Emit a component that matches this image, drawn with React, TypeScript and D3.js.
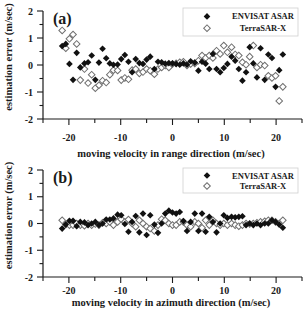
import React from "react";
import * as d3 from "d3";

// moving velocity (m/sec), shared by both panels
const velocity = [
  -21.3, -20.6, -19.9, -19.2, -18.5, -17.8, -17.0, -16.3, -15.6, -14.9, -14.2,
  -13.5, -12.8, -12.1, -11.4, -10.6, -9.9, -9.2, -8.5, -7.8, -7.1, -6.4, -5.7,
  -5.0, -4.3, -3.5, -2.8, -2.1, -1.4, -0.7, 0, 0.7, 1.4, 2.1, 2.8, 3.5, 4.3,
  5.0, 5.7, 6.4, 7.1, 7.8, 8.5, 9.2, 9.9, 10.6, 11.4, 12.1, 12.8, 13.5, 14.2,
  14.9, 15.6, 16.3, 17.0, 17.8, 18.5, 19.2, 19.9, 20.6, 21.3,
];

const rangeEnvisat = [
  0.7, 0.78, 0.04, -0.55, 0.45, -0.09, 0.06, 0.1, 0.35, -0.55, 0.09, 0.6, 0.25,
  0.06, 0.01, 0.02, 0.22, 0.37, 0.12, -0.27, 0.22, 0.07, 0.04, 0.2, 0.31, -0.15,
  0.12, 0.1, 0.05, 0.07, 0.06, 0.04, 0.01, 0.06, 0.01, 0.14, 0.09, -0.21, 0.12,
  0.05, -0.15, 0.41, -0.15, -0.27, -0.11, 0.04, 0.31, 0.16, -0.15, -0.58, -0.27,
  0.66, 0.06, -0.46, 0.62, -0.55, 0.39, 0.26, -0.81, -0.19, 0.39,
];
const rangeTerra = [
  1.28, 0.62, 0.97, 1.13, 0.78, -0.56, -0.15, -0.67, -0.36, -0.86, -0.75, -0.58,
  -0.65, -0.36, -0.19, -0.2, -0.56, -0.48, -0.53, -0.19, -0.15, -0.31, -0.26,
  -0.15, -0.21, -0.34, -0.15, -0.09, -0.02, -0.09, 0.04, 0.06, 0.1, 0.12, -0.02,
  0.04, 0.06, 0.16, 0.35, 0.26, 0.35, 0.26, 0.53, 0.41, 0.72, 0.47, 0.66, 0.39,
  0.35, 0.1, 0.01, 0.31, 0.72, -0.09, 0.01, -0.02, -0.4, -0.48, -0.4, -1.33,
  -0.81,
];
const azimuthEnvisat = [
  -0.19, -0.04, 0.1, 0.1, -0.1, 0.06, 0.04, -0.06, 0.0, 0.06, -0.06, 0.0, 0.15,
  0.15, 0.19, 0.33, 0.31, -0.02, -0.31, 0.06, 0.28, -0.33, 0.37, -0.43, 0.31,
  -0.04, -0.35, 0.0, 0.37, 0.48, 0.41, 0.37, 0.43, 0.09, -0.28, 0.06, 0.37,
  -0.28, 0.37, -0.31, 0.25, 0.06, -0.33, 0.0, 0.31, 0.21, 0.25, 0.23, 0.25,
  0.27, -0.06, 0.0, -0.06, 0.0, -0.06, 0.0, 0.0, 0.12, 0.06, -0.04, -0.16,
];
const azimuthTerra = [
  0.12, -0.04, -0.06, -0.06, 0.0, -0.06, -0.08, 0.0, -0.06, -0.02, -0.06, 0.03,
  0.0, 0.06, -0.06, 0.06, 0.16, 0.06, 0.15, 0.0, -0.12, 0.12, 0.0, -0.12, -0.19,
  -0.28, -0.06, 0.16, 0.12, 0.0, -0.06, -0.06, 0.06, 0.06, -0.06, -0.12, 0.06,
  0.0, -0.16, 0.12, -0.06, 0.12, 0.0, -0.06, 0.0, -0.06, 0.0, -0.06, -0.1, -0.06,
  0.0, -0.02, 0.0, 0.03, 0.06, 0.08, 0.12, 0.12, 0.06, 0.0, 0.12,
];

const xTicks = [-25, -20, -15, -10, -5, 0, 5, 10, 15, 20, 25];
const xTickLabels = [-20, -10, 0, 10, 20];
const yTicks = [-2, -1.5, -1, -0.5, 0, 0.5, 1, 1.5, 2];
const yTickLabels = [-2, -1, 0, 1, 2];
const seriesNames = ["ENVISAT ASAR", "TerraSAR-X"];

const FONT = "'Liberation Serif', 'Times New Roman', serif";
const INK = "#1a1a1a";

const x = d3.scaleLinear().domain([-25, 25]).range([43, 302]);
const diamond = d3.symbol(d3.symbolSquare, 22)();

type PanelProps = {
  tag: string;
  top: number;
  bottom: number;
  envisat: number[];
  terra: number[];
  xTitle: string;
  labelGap: number;
  titleGap: number;
  legendTop: number;
  legendH: number;
};

const Panel = ({
  tag,
  top,
  bottom,
  envisat,
  terra,
  xTitle,
  labelGap,
  titleGap,
  legendTop,
  legendH,
}: PanelProps) => {
  const y = d3.scaleLinear().domain([-2, 2]).range([bottom, top]);
  const x0 = x.range()[0];
  const x1 = x.range()[1];
  const mid = (top + bottom) / 2 - 8;
  const row1 = legendTop + legendH * 0.3;
  const row2 = legendTop + legendH * 0.72;
  return (
    <g fontFamily={FONT} fontWeight="bold" fill={INK}>
      {/* y axis */}
      <line x1={x0} x2={x0} y1={top} y2={bottom} stroke={INK} strokeWidth={1.2} />
      {yTicks.map((t) => (
        <line
          key={"yt" + t}
          x1={x0 - (Number.isInteger(t) ? 6 : 3.5)}
          x2={x0}
          y1={y(t)}
          y2={y(t)}
          stroke={INK}
          strokeWidth={1.1}
        />
      ))}
      {yTickLabels.map((t) => (
        <text key={"yl" + t} x={x0 - 10} y={y(t) + 3.5} textAnchor="end" fontSize={10}>
          {t}
        </text>
      ))}
      <text
        transform={`translate(12,${mid}) rotate(-90)`}
        textAnchor="middle"
        fontSize={10.5}
      >
        estimation error (m/sec)
      </text>
      {/* x axis */}
      <line x1={x0} x2={x1} y1={bottom} y2={bottom} stroke={INK} strokeWidth={1.2} />
      {xTicks.map((t) => (
        <line
          key={"xt" + t}
          x1={x(t)}
          x2={x(t)}
          y1={bottom}
          y2={bottom + (t % 10 === 0 ? 6 : 4)}
          stroke={INK}
          strokeWidth={1.1}
        />
      ))}
      {xTickLabels.map((t) => (
        <text key={"xl" + t} x={x(t)} y={bottom + labelGap} textAnchor="middle" fontSize={10}>
          {t}
        </text>
      ))}
      <text x={171} y={bottom + titleGap} textAnchor="middle" fontSize={10.5}>
        {xTitle}
      </text>
      <text x={53} y={top + 13} fontSize={16}>
        {tag}
      </text>
      {/* markers */}
      {terra.map((v, i) => (
        <path
          key={"t" + i}
          d={diamond}
          transform={`translate(${x(velocity[i])},${y(v)}) rotate(45)`}
          fill="#fff"
          stroke="#707070"
          strokeWidth={1}
        />
      ))}
      {envisat.map((v, i) => (
        <path
          key={"e" + i}
          d={diamond}
          transform={`translate(${x(velocity[i])},${y(v)}) rotate(45)`}
          fill="#111"
        />
      ))}
      {/* legend */}
      <rect x={183} y={legendTop} width={115} height={legendH} fill="#fff" stroke="#cfcfcf" strokeWidth={0.8} />
      <path d={diamond} transform={`translate(207,${row1}) rotate(45)`} fill="#111" />
      <path
        d={diamond}
        transform={`translate(207,${row2}) rotate(45)`}
        fill="#fff"
        stroke="#707070"
        strokeWidth={1}
      />
      <text x={263} y={row1 + 3} textAnchor="middle" fontSize={8.5}>
        {seriesNames[0]}
      </text>
      <text x={263} y={row2 + 3} textAnchor="middle" fontSize={8.5}>
        {seriesNames[1]}
      </text>
    </g>
  );
};

export default function App() {
  return (
    <svg width={303} height={316} style={{ position: "absolute", left: 0, top: 0, background: "#fff" }}>
      <Panel
        tag="(a)"
        top={11}
        bottom={119}
        envisat={rangeEnvisat}
        terra={rangeTerra}
        xTitle="moving velocity in range direction (m/sec)"
        labelGap={22}
        titleGap={38}
        legendTop={8}
        legendH={28}
      />
      <Panel
        tag="(b)"
        top={170}
        bottom={277}
        envisat={azimuthEnvisat}
        terra={azimuthTerra}
        xTitle="moving velocity in azimuth direction (m/sec)"
        labelGap={17}
        titleGap={29}
        legendTop={168}
        legendH={25}
      />
    </svg>
  );
}
